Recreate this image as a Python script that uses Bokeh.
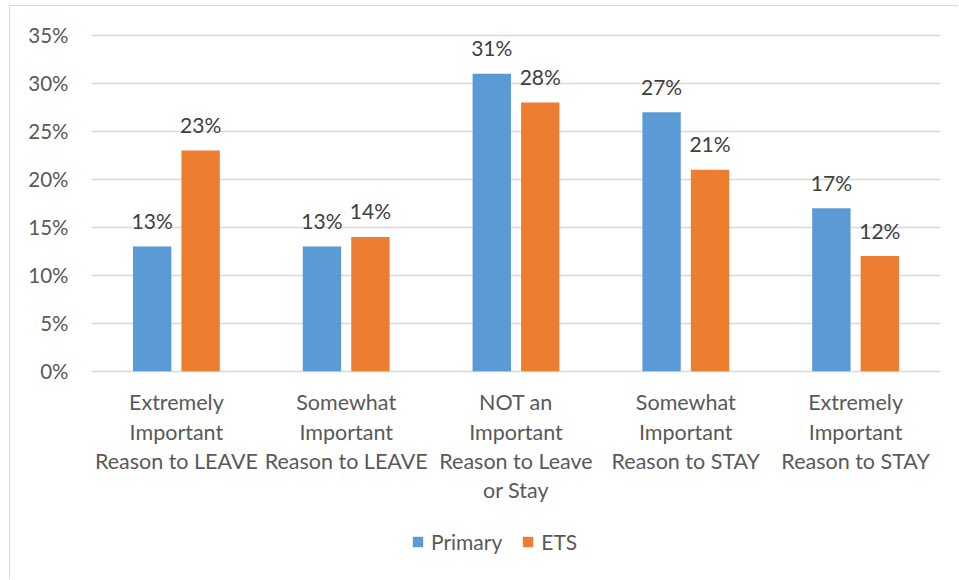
from bokeh.plotting import figure
from bokeh.models import ColumnDataSource, FactorRange, Range1d, FixedTicker, PrintfTickFormatter, Legend, LegendItem
from bokeh.transform import dodge
from bokeh.core.properties import value
from bokeh.embed import file_html
from bokeh.resources import INLINE

categories = [
    "Extremely\nImportant\nReason to LEAVE",
    "Somewhat\nImportant\nReason to LEAVE",
    "NOT an\nImportant\nReason to Leave\nor Stay",
    "Somewhat\nImportant\nReason to STAY",
    "Extremely\nImportant\nReason to STAY",
]
primary = [13, 13, 31, 27, 17]
ets = [23, 14, 28, 21, 12]
y_ticks = [0, 5, 10, 15, 20, 25, 30, 35]
series_names = ["Primary", "ETS"]

FONT = "Lato"
BLUE = "#5B9BD5"
ORANGE = "#ED7D31"
GRID = "#D9D9D9"

src = ColumnDataSource(dict(
    cat=categories,
    primary=primary,
    ets=ets,
    primary_lbl=[f"{v}%" for v in primary],
    ets_lbl=[f"{v}%" for v in ets],
    label_y=[-1.9] * len(categories),
))

p = figure(
    width=949, height=574,
    x_range=FactorRange(*categories, range_padding=0),
    y_range=Range1d(-21.82, 38.02),
    output_backend="svg", toolbar_location=None,
    margin=(5, 0, 0, 9),
    min_border_left=81, min_border_right=19, min_border_top=0, min_border_bottom=0,
)
p.styles = {"border-left": f"1px solid {GRID}", "border-top": f"1px solid {GRID}"}
p.outline_line_color = None
p.background_fill_color = "white"
p.border_fill_color = "white"

w = 0.226
off = 0.1427
r1 = p.vbar(x=dodge("cat", -off, range=p.x_range), top="primary", width=w, source=src,
            fill_color=BLUE, line_color=None)
r2 = p.vbar(x=dodge("cat", off, range=p.x_range), top="ets", width=w, source=src,
            fill_color=ORANGE, line_color=None)

lbl_kw = dict(text_font=value(FONT), text_font_size="21px", text_color="#404040",
              text_align="center", text_baseline="alphabetic", y_offset=-26)
p.text(x=dodge("cat", -off, range=p.x_range), y="primary", text="primary_lbl", source=src, **lbl_kw)
p.text(x=dodge("cat", off, range=p.x_range), y="ets", text="ets_lbl", source=src, **lbl_kw)

# category labels below the baseline
p.text(x="cat", y="label_y", text="cat", source=src, text_font=value(FONT),
       text_font_size="21.5px", text_color="#595959", text_align="center",
       text_baseline="top", text_line_height=1.12)

p.xaxis.visible = False
p.xgrid.visible = False
p.yaxis.ticker = FixedTicker(ticks=y_ticks)
p.yaxis.formatter = PrintfTickFormatter(format="%d%%")
p.yaxis.axis_line_color = None
p.yaxis.major_tick_line_color = None
p.yaxis.minor_tick_line_color = None
p.yaxis.major_label_standoff = 17
p.yaxis.major_label_text_font = FONT
p.yaxis.major_label_text_font_size = "20.5px"
p.yaxis.major_label_text_color = "#595959"
p.ygrid.grid_line_color = GRID
p.ygrid.grid_line_width = 1.3

legend = Legend(items=[LegendItem(label=series_names[0], renderers=[r1]),
                       LegendItem(label=series_names[1], renderers=[r2])],
                orientation="horizontal", location=(320, 26),
                glyph_width=13, glyph_height=13, label_standoff=7, spacing=19,
                padding=0, margin=0, border_line_color=None,
                label_text_font=FONT, label_text_font_size="21px",
                label_text_color="#595959", background_fill_alpha=0)
p.add_layout(legend, "center")

open("out.html", "w").write(file_html(p, INLINE))
